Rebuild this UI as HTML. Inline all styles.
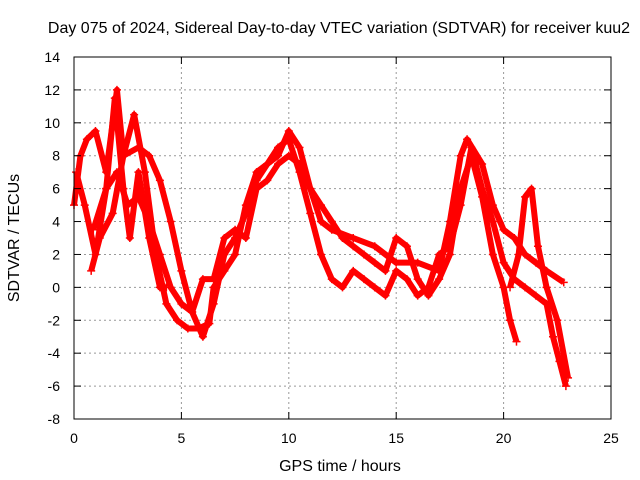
<!DOCTYPE html>
<html><head><meta charset="utf-8"><style>
body{margin:0;background:#fff;}
svg{display:block;font-family:"Liberation Sans",sans-serif;}
</style></head><body>
<svg id="chart" width="640" height="480" viewBox="0 0 640 480">
<rect x="0" y="0" width="640" height="480" fill="#fff"/>
<g id="grid"></g>
<g id="series"></g>
<rect x="74" y="57" width="537" height="362" fill="none" stroke="#000" stroke-width="1"/>
<g id="ticks"></g>
<text x="339" y="33" text-anchor="middle" font-size="16">Day 075 of 2024, Sidereal Day-to-day VTEC variation (SDTVAR) for receiver kuu2</text>
<text x="340" y="471" text-anchor="middle" font-size="16">GPS time / hours</text>
<text transform="translate(19,238) rotate(-90)" text-anchor="middle" font-size="16">SDTVAR / TECUs</text>
</svg>
<script>
const xTicks=[0,5,10,15,20,25];
const yTicks=[-8,-6,-4,-2,0,2,4,6,8,10,12,14];
const tA=[0,0.3,0.6,1,1.5,2,2.3,3,3.5,4,4.5,5,5.5,6,6.5,7,7.5,8,8.5,9,9.5,10,10.5,11,11.5,12,13,14,15,16,17,17.5,18,18.3,19,19.5,20,20.5,21,21.5,22,22.8];
const vA=[5,8,9,9.5,7,12,8,8.5,8,6.5,4,1,-1.5,-3,-1,2,3,4.5,6.5,7.5,8,9.5,8.5,6,4,3.5,3,2.5,1.5,1.5,1,4,8,9,7.5,5,3.5,3,2,1.5,1,0.3];
const tB=[0.8,1.2,1.8,2.3,2.8,3.3,3.8,4.3,4.8,5.3,5.8,6.3,6.5,7,7.5,8,8.5,9,9.5,10,10.5,11,11.5,12,12.5,13,13.5,14,14.5,15,15.5,16,16.5,17,17.5,18,18.5,19,19.5,20,20.5,21,21.5,22,22.3,22.6,22.9];
const vB=[1,3,4.5,8,10.5,7,2,-1,-2,-2.5,-2.5,-2.2,0,1,2,5,7,7.5,8.5,9,7,4.5,2,0.5,0,1,0.5,0,-0.5,1,0.5,-0.5,0,2,2.5,5,8.5,6,4,1.5,0.5,0,-0.5,-1,-3,-4.5,-6];
const tC=[0.9,1.5,2,2.5,3,3.5,4,4.5,5,5.5,6,6.5,7,7.5,8,8.5,9,9.5,10,10.5,11,11.5,12,12.5,13,13.5,14,14.5,15,15.5,16,16.5,17,17.5,18,18.5,19,19.5,20,20.3,20.6];
const vC=[3.5,6,7,5,5.5,4,2,0,-1,-1.5,0.5,0.5,3,3.5,3,6,6.5,7.5,8,7.5,6,5,4,3,2.5,2,1.5,1,3,2.5,0.5,-0.5,0.5,2,6,8,5.5,2,0,-2,-3.3];
const tD=[0.1,0.5,1,1.5,1.9,2.3,2.6,3,3.5,4,4.3];
const vD=[7,5,2,6,11.5,6,3,7,3,0,0];
const tE=[20.3,20.7,21,21.3,21.6,22,22.5,23];
const vE=[0,2,5.5,6,2.5,0,-2,-5.5];
const X=t=>74+t*(537/25), Y=v=>419-(v+8)*(362/22);
const NS='http://www.w3.org/2000/svg';
const grid=document.getElementById('grid'),ticks=document.getElementById('ticks'),ser=document.getElementById('series');
function mk(tag,attrs,parent){const e=document.createElementNS(NS,tag);for(const k in attrs)e.setAttribute(k,attrs[k]);parent.appendChild(e);return e;}
xTicks.forEach(t=>{
 if(t>0&&t<25){const g=mk('line',{x1:X(t),x2:X(t),y1:57,y2:419,stroke:'#999','stroke-dasharray':'2,3'},grid);
 
 }
 const l=mk('text',{x:X(t),y:443,'text-anchor':'middle','font-size':'14'},ticks);l.textContent=t;
 
 
 mk('line',{x1:X(t),x2:X(t),y1:419,y2:412,stroke:'#000'},ticks);
 mk('line',{x1:X(t),x2:X(t),y1:57,y2:64,stroke:'#000'},ticks);
});
yTicks.forEach(v=>{
 if(v>-8&&v<14){const g=mk('line',{x1:74,x2:611,y1:Y(v),y2:Y(v),stroke:'#999','stroke-dasharray':'2,3'},grid);
 
 }
 const l=mk('text',{x:60,y:Y(v)+5,'text-anchor':'end','font-size':'14'},ticks);l.textContent=v;
 
 
 mk('line',{x1:74,x2:81,y1:Y(v),y2:Y(v),stroke:'#000'},ticks);
 mk('line',{x1:611,x2:604,y1:Y(v),y2:Y(v),stroke:'#000'},ticks);
});
[[tA,vA,'a'],[tB,vB,'b'],[tC,vC,'c'],[tD,vD,'d'],[tE,vE,'e']].forEach(([ts,vs,n])=>{
 const pts=ts.map((t,i)=>X(t)+','+Y(vs[i])).join(' ');
 const pl=mk('polyline',{points:pts,fill:'none',stroke:'#f00','stroke-width':6,'stroke-linejoin':'round'},ser);
 
 
 ts.forEach((t,i)=>{
  const p=mk('path',{d:`M${X(t)-4},${Y(vs[i])}h8M${X(t)},${Y(vs[i])-4}v8`,stroke:'#f00','stroke-width':1.5},ser);
  
  
 });
});
</script>
</body></html>
